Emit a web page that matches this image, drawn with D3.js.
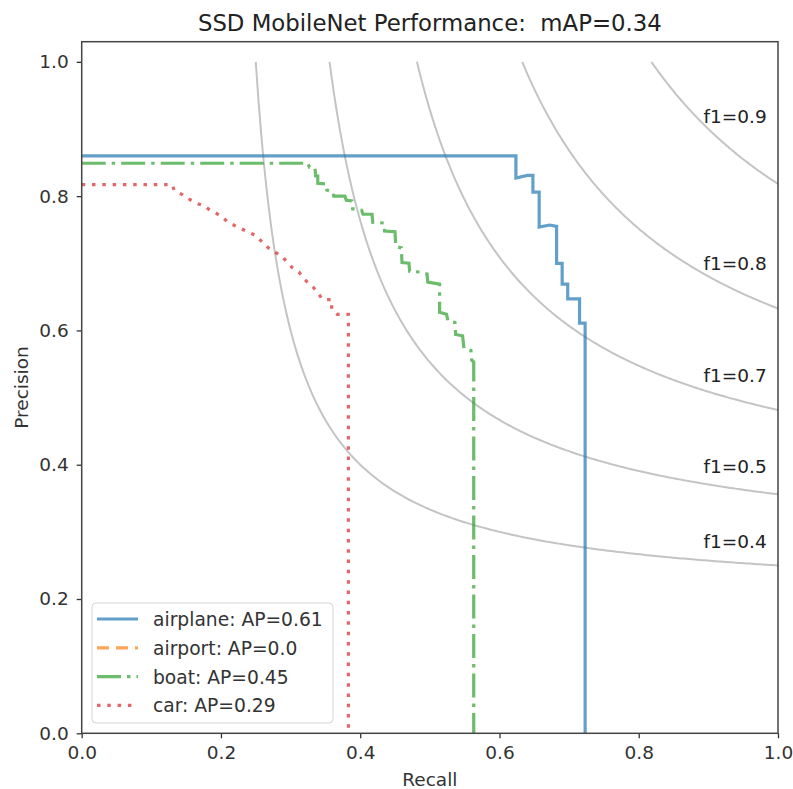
<!DOCTYPE html>
<html>
<head>
<meta charset="utf-8">
<script src="https://cdn.jsdelivr.net/npm/d3@7"></script>
<style>
  body { margin: 0; background: #fff; }
  svg { display: block; font-family: "DejaVu Sans", sans-serif; }
</style>
</head>
<body>
<script>
// PR curve vertices (recall, precision)
const airplaneRecall = [0, 0.6236, 0.6236, 0.640, 0.648, 0.648, 0.657, 0.657, 0.672, 0.682, 0.682, 0.690, 0.690, 0.698, 0.698, 0.715, 0.715, 0.723, 0.723];
const airplanePrecision = [0.860, 0.860, 0.827, 0.831, 0.831, 0.806, 0.806, 0.754, 0.757, 0.755, 0.700, 0.700, 0.669, 0.669, 0.647, 0.647, 0.611, 0.611, 0];

const boatRecall = [0, 0.325, 0.327, 0.335, 0.336, 0.339, 0.339, 0.351, 0.352, 0.361, 0.362, 0.378, 0.380, 0.388, 0.389, 0.402, 0.404, 0.417, 0.418, 0.434, 0.435, 0.450, 0.451, 0.459, 0.460, 0.470, 0.471, 0.486, 0.496, 0.497, 0.514, 0.514, 0.524, 0.526, 0.536, 0.537, 0.547, 0.549, 0.559, 0.560, 0.563, 0.563];
const boatPrecision = [0.849, 0.849, 0.843, 0.842, 0.830, 0.830, 0.819, 0.818, 0.809, 0.806, 0.800, 0.800, 0.794, 0.793, 0.781, 0.779, 0.773, 0.773, 0.761, 0.760, 0.748, 0.747, 0.725, 0.723, 0.701, 0.700, 0.688, 0.687, 0.684, 0.672, 0.669, 0.627, 0.624, 0.614, 0.612, 0.594, 0.592, 0.573, 0.570, 0.556, 0.553, 0];

const carRecall = [0, 0.130, 0.133, 0.145, 0.155, 0.166, 0.177, 0.184, 0.194, 0.203, 0.210, 0.222, 0.230, 0.240, 0.249, 0.257, 0.263, 0.272, 0.280, 0.289, 0.296, 0.303, 0.312, 0.318, 0.325, 0.332, 0.339, 0.346, 0.359, 0.359, 0.367, 0.383, 0.383];
const carPrecision = [0.817, 0.817, 0.808, 0.802, 0.795, 0.789, 0.785, 0.779, 0.774, 0.768, 0.761, 0.755, 0.751, 0.746, 0.742, 0.734, 0.727, 0.720, 0.715, 0.709, 0.700, 0.693, 0.687, 0.678, 0.671, 0.665, 0.656, 0.646, 0.646, 0.632, 0.624, 0.624, 0];

const classNames = ["airplane", "airport", "boat", "car"];
const apValues = ["0.61", "0.0", "0.45", "0.29"];
const colors = ["#1f77b4", "#ff7f0e", "#2ca02c", "#d62728"];
const dashes = [null, "12,7", "24,6,3.5,6", "3.5,6.8"];

const fScores = [0.4, 0.525, 0.65, 0.775, 0.9];
const ticks = [0, 0.2, 0.4, 0.6, 0.8, 1.0];

const width = 793, height = 789;
const margin = { top: 41.7, right: 15, bottom: 55.7, left: 81.7 };

const svg = d3.select("body").append("svg")
    .attr("width", width)
    .attr("height", height);

const x = d3.scaleLinear().domain([0, 1]).range([margin.left, width - margin.right]);
const y = d3.scaleLinear().domain([0, 1.03]).range([height - margin.bottom, margin.top]);

svg.append("defs").append("clipPath").attr("id", "clip")
    .append("rect")
    .attr("x", x(0)).attr("y", y(1.03))
    .attr("width", x(1) - x(0)).attr("height", y(0) - y(1.03));

const line = d3.line().x(d => x(d[0])).y(d => y(d[1]));
const plot = svg.append("g").attr("clip-path", "url(#clip)");

// iso-f1 reference curves
fScores.forEach(f => {
    const x0 = f / (2 - f);
    const pts = d3.range(0, 201).map(i => {
        const r = x0 + (1 - x0) * i / 200;
        return [r, f * r / (2 * r - f)];
    });
    plot.append("path")
        .attr("d", line(pts))
        .attr("fill", "none")
        .attr("stroke", "#c4c4c4")
        .attr("stroke-width", 2);
    const rl = 0.9192;
    svg.append("text")
        .attr("x", x(0.893))
        .attr("y", y(f * rl / (2 * rl - f) + 0.02) - (f === 0.9 ? 5 : 0))
        .style("font-size", "18.5px")
        .style("fill", "#222")
        .text("f1=" + d3.format(".1f")(f === 0.525 ? 0.5 : f));
});

// PR curves
const series = [
    d3.zip(airplaneRecall, airplanePrecision),
    [],
    d3.zip(boatRecall, boatPrecision),
    d3.zip(carRecall, carPrecision)
];
series.forEach((pts, i) => {
    if (!pts.length) return;
    plot.append("path")
        .attr("d", line(pts))
        .attr("fill", "none")
        .attr("stroke", colors[i])
        .attr("stroke-opacity", 0.7)
        .attr("stroke-width", 3.2)
        .attr("stroke-dasharray", dashes[i]);
});

// axes
const xAxis = svg.append("g")
    .attr("transform", `translate(0,${y(0)})`)
    .call(d3.axisBottom(x).tickValues(ticks).tickFormat(d3.format(".1f")).tickSize(5).tickPadding(8));
const yAxis = svg.append("g")
    .attr("transform", `translate(${x(0)},0)`)
    .call(d3.axisLeft(y).tickValues(ticks).tickFormat(d3.format(".1f")).tickSize(5).tickPadding(8));
[xAxis, yAxis].forEach(a => {
    a.select(".domain").remove();
    a.selectAll(".tick line").attr("stroke", "#333").attr("stroke-width", 1.3);
    a.selectAll(".tick text").style("font-size", "18.5px").style("fill", "#333")
        .style("font-family", "DejaVu Sans, sans-serif");
});

svg.append("rect")
    .attr("x", x(0)).attr("y", y(1.03))
    .attr("width", x(1) - x(0)).attr("height", y(0) - y(1.03))
    .attr("fill", "none")
    .attr("stroke", "#444")
    .attr("stroke-width", 1.5);

// title and labels
svg.append("text")
    .attr("x", (x(0) + x(1)) / 2).attr("y", 31)
    .attr("text-anchor", "middle")
    .style("font-size", "22.8px").style("fill", "#222")
    .attr("xml:space", "preserve")
    .text("SSD MobileNet Performance:  mAP=0.34");

svg.append("text")
    .attr("x", (x(0) + x(1)) / 2).attr("y", 786)
    .attr("text-anchor", "middle")
    .style("font-size", "18.5px").style("fill", "#333")
    .text("Recall");

svg.append("text")
    .attr("transform", `translate(28,${(y(0) + y(1.03)) / 2}) rotate(-90)`)
    .attr("text-anchor", "middle")
    .style("font-size", "18.5px").style("fill", "#333")
    .text("Precision");

// legend
const legend = svg.append("g").attr("transform", "translate(92,603)");
legend.append("rect")
    .attr("width", 241).attr("height", 120)
    .attr("rx", 4)
    .attr("fill", "#fff").attr("fill-opacity", 0.8)
    .attr("stroke", "#d5d5d5");
classNames.forEach((name, i) => {
    const cy = 16 + i * 28.8;
    legend.append("line")
        .attr("x1", 5).attr("x2", 46)
        .attr("y1", cy).attr("y2", cy)
        .attr("stroke", colors[i])
        .attr("stroke-opacity", 0.7)
        .attr("stroke-width", 3.2)
        .attr("stroke-dasharray", dashes[i]);
    legend.append("text")
        .attr("x", 61).attr("y", cy + 7)
        .style("font-size", "18.7px").style("fill", "#333")
        .text(`${name}: AP=${apValues[i]}`);
});
</script>
</body>
</html>
